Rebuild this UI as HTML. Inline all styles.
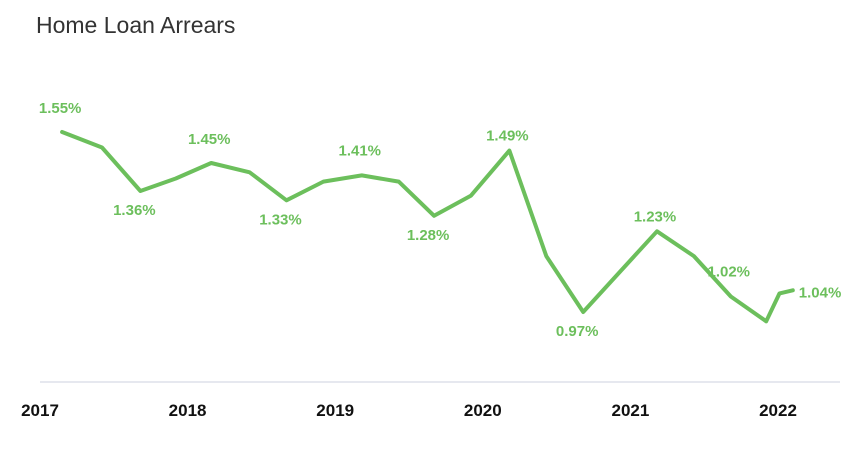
<!DOCTYPE html>
<html><head><meta charset="utf-8"><style>
html,body{margin:0;padding:0;background:#fff;width:857px;height:454px;overflow:hidden;font-family:"Liberation Sans",sans-serif}
</style></head><body>
<svg width="857" height="454" xmlns="http://www.w3.org/2000/svg">
<text x="36" y="33" font-size="23" fill="#333" font-family="Liberation Sans, sans-serif">Home Loan Arrears</text>
<line x1="40" y1="382" x2="840" y2="382" stroke="#dde0ea" stroke-width="1.5"/>
<g id="ticks"></g>
<path id="line" fill="none" stroke="#6cbf5c" stroke-width="4" stroke-linejoin="round" stroke-linecap="round"/>
<g id="labels"></g>
</svg>
<script>
const times=[2017.15,2017.42,2017.68,2017.92,2018.16,2018.42,2018.67,2018.92,2019.18,2019.43,2019.67,2019.92,2020.18,2020.43,2020.68,2020.93,2021.18,2021.43,2021.68,2021.92,2022.01,2022.10];
const values=[1.55,1.50,1.36,1.40,1.45,1.42,1.33,1.39,1.41,1.39,1.28,1.345,1.49,1.15,0.97,1.10,1.23,1.15,1.02,0.94,1.03,1.04];
const yearTicks=[2017,2018,2019,2020,2021,2022];
const labelIdx=[0,2,4,6,8,10,12,14,16,18,21];
const labelPos=["above","below","above","below","above","below","above","below","above","above","right"];
const labelDy=[-19,24,-19,24,-20,24,-10,24,-10,-20,7];
const NS="http://www.w3.org/2000/svg";
const xs=t=>40+(t-2017)*147.6;
const ys=v=>132+(1.55-v)*310.3;
let d="";
times.forEach((t,i)=>{d+=(i?"L":"M")+xs(t).toFixed(1)+","+ys(values[i]).toFixed(1);});
document.getElementById("line").setAttribute("d",d);
const tg=document.getElementById("ticks");
yearTicks.forEach(y=>{const e=document.createElementNS(NS,"text");


e.setAttribute("x",xs(y));e.setAttribute("y",416);e.setAttribute("text-anchor","middle");
e.setAttribute("font-size","17");e.setAttribute("font-weight","bold");e.setAttribute("fill","#111");
e.textContent=y;tg.appendChild(e);});
const lg=document.getElementById("labels");
labelIdx.forEach((i,k)=>{const e=document.createElementNS(NS,"text");


let x=xs(times[i]),y=ys(values[i])+labelDy[k],p=labelPos[k],anchor="middle";
if(p==="below")x-=6;else if(p==="right"){x+=6;anchor="start";}else x-=2;
e.setAttribute("x",x);e.setAttribute("y",y);e.setAttribute("text-anchor",anchor);
e.setAttribute("font-size","15");e.setAttribute("font-weight","bold");e.setAttribute("fill","#6cbf5c");
e.textContent=values[i].toFixed(2)+"%";lg.appendChild(e);});
</script>
</body></html>
